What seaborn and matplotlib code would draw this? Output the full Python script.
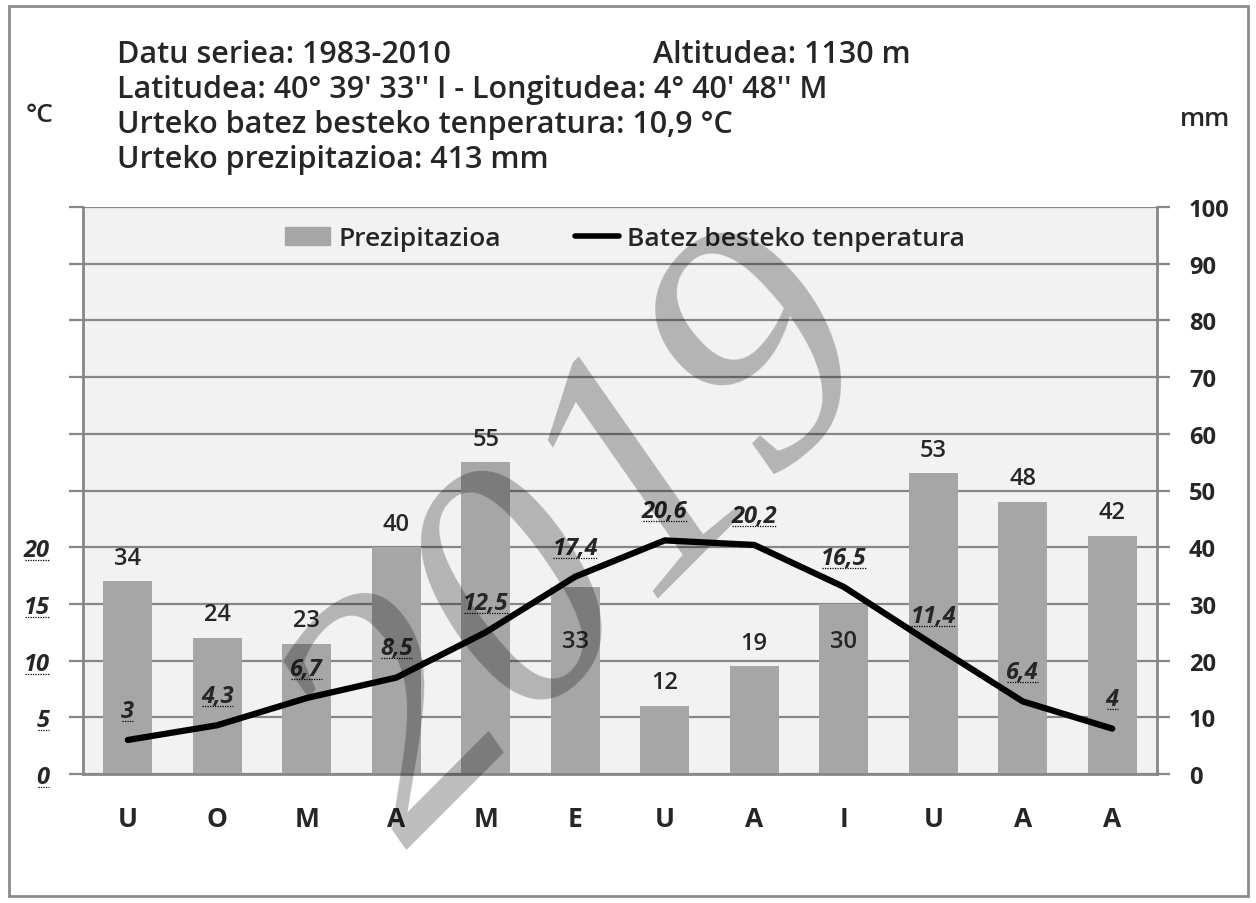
import numpy as np
import pandas as pd
import seaborn as sns
import matplotlib.pyplot as plt
from matplotlib.lines import Line2D
from matplotlib.patches import Patch, Rectangle
from matplotlib.transforms import IdentityTransform

# Datuak
months = ['U', 'O', 'M', 'A', 'M', 'E', 'U', 'A', 'I', 'U', 'A', 'A']
precip = [34, 24, 23, 40, 55, 33, 12, 19, 30, 53, 48, 42]
temp = [3, 4.3, 6.7, 8.5, 12.5, 17.4, 20.6, 20.2, 16.5, 11.4, 6.4, 4]
temp_ticks = [0, 5, 10, 15, 20]
mm_ticks = list(range(0, 101, 10))

header = ["Datu seriea: 1983-2010",
          "Latitudea: 40° 39' 33'' I - Longitudea: 4° 40' 48'' M",
          "Urteko batez besteko tenperatura: 10,9 °C",
          "Urteko prezipitazioa: 413 mm"]

sns.set_theme(style='white')
plt.rcParams['font.family'] = ['Open Sans', 'DejaVu Sans']

W, H = 1256, 904
GRAY = '#878787'


def fx(x):
    return x / W


def fy(y):
    return 1 - y / H


fig = plt.figure(figsize=(12.56, 9.04), dpi=100)
fig.patch.set_facecolor('white')
ax = fig.add_axes([fx(83), fy(775), (1157 - 83) / W, (775 - 208) / H])

df = pd.DataFrame({'idx': range(12), 'mm': precip, 'temp': temp})

# Barrak (prezipitazioa)
sns.barplot(data=df, x='idx', y='mm', color='#a6a6a6', saturation=1,
            width=0.55, linewidth=0, ax=ax)
ax.set_facecolor('#f2f2f2')
ax.set_ylim(0, 100)
ax.set_axisbelow(True)
ax.grid(axis='y', color=GRAY, lw=1.6)
ax.grid(axis='x', visible=False)

# Tenperatura lerroa
ax2 = ax.twinx()
sns.lineplot(data=df, x='idx', y='temp', color='black', lw=4.5, ax=ax2)
ax2.set_ylim(0, 50)
ax.set_xlim(-0.5, 11.5)

ax.yaxis.tick_right()
ax.set_yticks(mm_ticks)
ax.set_yticklabels([str(v) for v in mm_ticks], fontsize=17, fontweight='bold')
ax.tick_params(axis='y', length=9, width=1.6, color=GRAY, pad=14)

ax2.yaxis.tick_left()
ax2.set_yticks(np.arange(0, 51, 5))
ax2.set_yticklabels([str(v) if v in temp_ticks else '' for v in range(0, 51, 5)],
                    fontsize=17, fontweight='bold', style='italic')
ax2.tick_params(axis='y', length=10, width=1.6, color=GRAY, pad=14)

ax.set_xticks(range(12))
ax.set_xticklabels(months, fontsize=19, fontweight='bold')
ax.set_xticks(np.arange(-0.5, 12, 1), minor=True)
ax.tick_params(axis='x', which='major', length=0, pad=22)
ax.tick_params(axis='x', which='minor', length=8, width=1.6, color=GRAY)

for a in (ax, ax2):
    a.set_xlabel('')
    a.set_ylabel('')
for s in ['left', 'right', 'bottom']:
    ax.spines[s].set_color(GRAY)
    ax.spines[s].set_linewidth(2)
ax.spines['top'].set_visible(False)
for s in ax2.spines.values():
    s.set_visible(False)

# Balioen etiketak
inside = {5: 23.5, 8: 23.5}
for i, v in enumerate(precip):
    if i in inside:
        ax.text(i, inside[i], str(v), ha='center', va='center',
                fontsize=17, fontweight='semibold')
    else:
        ax.annotate(str(v), (i, v), xytext=(0, 17), textcoords='offset points',
                    ha='center', va='center', fontsize=17, fontweight='semibold')

temp_texts = []
for i, t in enumerate(temp):
    tt = ax2.annotate(str(t).replace('.', ','), (i, t), xytext=(0, 21),
                      textcoords='offset points', ha='center', va='center',
                      fontsize=17, fontweight='bold', style='italic')
    temp_texts.append(tt)

# Legenda
handles = [Patch(color='#a6a6a6', label='Prezipitazioa'),
           Line2D([], [], color='black', lw=4, label='Batez besteko tenperatura')]
ax2.legend(handles=handles, loc='center', bbox_to_anchor=(0.505, 0.944), ncol=2,
           frameon=False, prop={'size': 19, 'weight': 'semibold'},
           columnspacing=2.8, handlelength=1.7, handletextpad=0.3)

# Goiburua
for k, line in enumerate(header):
    fig.text(fx(117), fy(55 + k * 35), line, fontsize=22, fontweight='semibold',
             va='center', ha='left')
fig.text(fx(653), fy(55), "Altitudea: 1130 m", fontsize=22, fontweight='semibold',
         va='center', ha='left')
fig.text(fx(40), fy(115), "°C", fontsize=19, fontweight='semibold', ha='center', va='center')
fig.text(fx(1205), fy(120), "mm", fontsize=19, fontweight='semibold', ha='center', va='center')

# Ur-marka
fig.text(fx(592), fy(548), "2019", fontsize=248, family='Liberation Serif', style='italic',
         rotation=45, rotation_mode='anchor', ha='center', va='center',
         color='black', alpha=0.26, zorder=10)

# Kanpoko markoa
fig.add_artist(Rectangle((fx(9), fy(897)), fx(1239), (897 - 7) / H, fill=False,
                         edgecolor='#8c8c8c', lw=2, transform=fig.transFigure))

# Azpimarra puntukatuak
fig.canvas.draw()
renderer = fig.canvas.get_renderer()
under = temp_texts + [t for t in ax2.get_yticklabels() if t.get_text()]
for t in under:
    bb = t.get_window_extent(renderer)
    fig.add_artist(Line2D([bb.x0 + 1, bb.x1 - 1], [bb.y0 + 2, bb.y0 + 2],
                          transform=IdentityTransform(), color='black', lw=0.9,
                          linestyle=(0, (1, 1))))

plt.savefig('out.png', dpi=100)
